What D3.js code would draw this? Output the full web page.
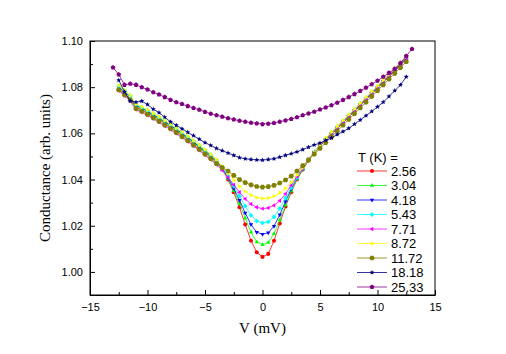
<!DOCTYPE html>
<html><head><meta charset="utf-8">
<script src="https://cdn.jsdelivr.net/npm/d3@7/dist/d3.min.js"></script>
<style>body{margin:0;background:#fff}svg{display:block}</style>
</head><body>
<svg id="c" width="506" height="354"></svg>
<script>
const voltages = [-13,-12.5,-12,-11.5,-11,-10.5,-10,-9.5,-9,-8.5,-8,-7.5,-7,-6.5,-6,-5.5,-5,-4.5,-4,-3.5,-3,-2.5,-2,-1.5,-1,-0.5,0,0.5,1,1.5,2,2.5,3,3.5,4,4.5,5,5.5,6,6.5,7,7.5,8,8.5,9,9.5,10,10.5,11,11.5,12,12.5,13];
const temps = ["2.56","3.04","4.18","5.43","7.71","8.72","11.72","18.18","25.33"];
const g256 = [null,1.0792,1.0771,1.0750,1.0713,1.0702,1.0688,1.0674,1.0660,1.0643,1.0627,1.0611,1.0593,1.0575,1.0557,1.0537,1.0517,1.0497,1.0474,1.0446,1.0400,1.0345,1.0280,1.0205,1.0135,1.0085,1.0065,1.0078,1.0135,1.0210,1.0283,1.0345,1.0400,1.0443,1.0482,1.0516,1.0546,1.0570,1.0595,1.0620,1.0645,1.0670,1.0695,1.0720,1.0745,1.0770,1.0795,1.0820,1.0845,1.0870,1.0895,1.0921,null];
const g304 = [null,1.0798,1.0779,1.0756,1.0719,1.0707,1.0694,1.0679,1.0664,1.0648,1.0632,1.0615,1.0598,1.0580,1.0561,1.0542,1.0522,1.0502,1.0479,1.0448,1.0405,1.0352,1.0295,1.0232,1.0172,1.0130,1.0118,1.0127,1.0165,1.0225,1.0290,1.0350,1.0402,1.0445,1.0485,1.0520,1.0551,1.0578,1.0604,1.0629,1.0654,1.0679,1.0704,1.0729,1.0754,1.0779,1.0804,1.0829,1.0854,1.0879,1.0905,1.0931,null];
const g418 = [null,1.0800,1.0781,1.0758,1.0721,1.0709,1.0696,1.0681,1.0666,1.0650,1.0634,1.0617,1.0600,1.0582,1.0563,1.0544,1.0524,1.0504,1.0481,1.0450,1.0410,1.0362,1.0310,1.0255,1.0205,1.0172,1.0163,1.0170,1.0198,1.0248,1.0305,1.0360,1.0408,1.0448,1.0485,1.0518,1.0548,1.0572,1.0598,1.0623,1.0648,1.0673,1.0698,1.0723,1.0748,1.0773,1.0798,1.0823,1.0848,1.0873,1.0898,1.0924,null];
const g543 = [null,1.0805,1.0786,1.0763,1.0725,1.0713,1.0700,1.0685,1.0670,1.0654,1.0638,1.0621,1.0604,1.0586,1.0567,1.0548,1.0528,1.0508,1.0485,1.0452,1.0415,1.0372,1.0328,1.0285,1.0245,1.0220,1.0212,1.0217,1.0238,1.0275,1.0320,1.0365,1.0408,1.0448,1.0485,1.0518,1.0549,1.0577,1.0603,1.0628,1.0653,1.0678,1.0703,1.0728,1.0753,1.0778,1.0803,1.0828,1.0853,1.0878,1.0903,1.0929,null];
const g771 = [null,1.0785,1.0763,1.0740,1.0703,1.0691,1.0678,1.0663,1.0648,1.0632,1.0616,1.0599,1.0582,1.0564,1.0545,1.0526,1.0506,1.0486,1.0464,1.0440,1.0410,1.0377,1.0345,1.0316,1.0294,1.0280,1.0274,1.0277,1.0288,1.0308,1.0338,1.0375,1.0413,1.0450,1.0485,1.0517,1.0547,1.0575,1.0601,1.0626,1.0651,1.0676,1.0701,1.0726,1.0751,1.0776,1.0801,1.0826,1.0851,1.0876,1.0901,1.0927,null];
const g872 = [null,1.0808,1.0788,1.0765,1.0727,1.0715,1.0702,1.0687,1.0672,1.0656,1.0640,1.0623,1.0606,1.0588,1.0569,1.0550,1.0530,1.0510,1.0487,1.0458,1.0428,1.0398,1.0370,1.0348,1.0332,1.0322,1.0318,1.0320,1.0328,1.0342,1.0362,1.0388,1.0420,1.0452,1.0485,1.0517,1.0550,1.0580,1.0606,1.0631,1.0656,1.0681,1.0706,1.0731,1.0756,1.0781,1.0806,1.0831,1.0856,1.0881,1.0907,1.0933,null];
const g1172 = [null,1.0788,1.0766,1.0744,1.0707,1.0695,1.0682,1.0667,1.0652,1.0636,1.0620,1.0603,1.0586,1.0568,1.0549,1.0530,1.0510,1.0490,1.0469,1.0452,1.0437,1.0418,1.0400,1.0387,1.0377,1.0370,1.0367,1.0369,1.0375,1.0385,1.0398,1.0415,1.0437,1.0460,1.0485,1.0510,1.0535,1.0560,1.0585,1.0610,1.0635,1.0660,1.0685,1.0710,1.0735,1.0760,1.0785,1.0810,1.0835,1.0860,1.0885,1.0910,null];
const g1818 = [null,1.0830,1.0780,1.0740,1.0735,1.0740,1.0725,1.0705,1.0690,1.0670,1.0650,1.0635,1.0620,1.0605,1.0590,1.0575,1.0560,1.0548,1.0535,1.0525,1.0515,1.0505,1.0495,1.0490,1.0487,1.0485,1.0484,1.0487,1.0490,1.0497,1.0505,1.0512,1.0520,1.0530,1.0540,1.0550,1.0558,1.0570,1.0580,1.0595,1.0608,1.0622,1.0640,1.0658,1.0677,1.0695,1.0715,1.0735,1.0760,1.0785,1.0810,1.0845,null];
const g2533 = [1.0885,1.0855,1.0810,1.0815,1.0810,1.0800,1.0790,1.0778,1.0768,1.0757,1.0745,1.0735,1.0727,1.0718,1.0710,1.0702,1.0693,1.0685,1.0678,1.0672,1.0665,1.0660,1.0655,1.0650,1.0646,1.0643,1.0640,1.0642,1.0645,1.0650,1.0656,1.0662,1.0670,1.0678,1.0686,1.0694,1.0703,1.0712,1.0722,1.0733,1.0745,1.0757,1.0770,1.0784,1.0798,1.0813,1.0828,1.0845,1.0862,1.0880,1.0905,1.0935,1.0965];
const xTicks = [-15,-10,-5,0,5,10,15];
const yTicks = [1.00,1.02,1.04,1.06,1.08,1.10];

const seriesData = [g256,g304,g418,g543,g771,g872,g1172,g1818,g2533];
const colors = ["#ff0000","#00ff00","#0000ff","#00ffff","#ff00ff","#ffff00","#808000","#000080","#800080"];
const shapes = ["circle","up","down","diamond","left","right","hexagon","star","pentagon"];

const svg = d3.select("#c");
const L=90,R=435,T=41,B=295;
const x = d3.scaleLinear().domain([-15,15]).range([L,R]);
const y = d3.scaleLinear().domain([0.99,1.10]).range([B,T]);

function poly(n, r, rot){
  const pts=[];
  for(let i=0;i<n;i++){const a=rot+i*2*Math.PI/n;pts.push([r*Math.cos(a),r*Math.sin(a)]);}
  return "M"+pts.map(p=>p[0].toFixed(2)+","+p[1].toFixed(2)).join("L")+"Z";
}
function starPath(r){
  const pts=[];
  for(let i=0;i<10;i++){const rr=i%2?r*0.45:r;const a=-Math.PI/2+i*Math.PI/5;pts.push([rr*Math.cos(a),rr*Math.sin(a)]);}
  return "M"+pts.map(p=>p[0].toFixed(2)+","+p[1].toFixed(2)).join("L")+"Z";
}
function markerPath(s){
  const r=2.2;
  switch(s){
    case "circle": return d3.symbol(d3.symbolCircle, 13)();
    case "up": return poly(3,r+0.3,-Math.PI/2);
    case "down": return poly(3,r+0.3,Math.PI/2);
    case "diamond": return poly(4,r+0.2,-Math.PI/2);
    case "left": return poly(3,r+0.3,Math.PI);
    case "right": return poly(3,r+0.3,0);
    case "hexagon": return poly(6,r+0.5,0);
    case "star": return starPath(r+0.4);
    case "pentagon": return poly(5,r+0.3,-Math.PI/2);
  }
}

// frame
svg.append("rect").attr("x",L).attr("y",T).attr("width",R-L).attr("height",B-T)
  .attr("fill","none").attr("stroke","#000").attr("stroke-width",1);

// axes
const xAxis = d3.axisBottom(x).tickValues(xTicks).tickSizeInner(-5).tickSizeOuter(0).tickPadding(8).tickFormat(d3.format("d"));
svg.append("g").attr("transform",`translate(0,${B})`).call(xAxis);
const xMinor = d3.axisBottom(x).tickValues(d3.range(-12.5,15,5)).tickSizeInner(-3).tickSizeOuter(0).tickFormat("");
svg.append("g").attr("transform",`translate(0,${B})`).call(xMinor).select(".domain").remove();
const yAxis = d3.axisLeft(y).tickValues(yTicks).tickSizeInner(-5).tickSizeOuter(0).tickPadding(7).tickFormat(d3.format(".2f"));
svg.append("g").attr("transform",`translate(${L},0)`).call(yAxis);
const yMinor = d3.axisLeft(y).tickValues([0.99,1.01,1.03,1.05,1.07,1.09]).tickSizeInner(-3).tickSizeOuter(0).tickFormat("");
svg.append("g").attr("transform",`translate(${L},0)`).call(yMinor).select(".domain").remove();
svg.selectAll(".tick text").attr("font-family","Liberation Sans, Arial, sans-serif").attr("font-size","11px").attr("fill","#000");
svg.selectAll(".domain").attr("stroke","#000");
svg.selectAll(".tick line").attr("stroke","#000");

// axis titles
svg.append("text").attr("x",(L+R)/2).attr("y",333).attr("text-anchor","middle")
  .attr("font-family","Liberation Serif, Times New Roman, serif").attr("font-size","15px").text("V (mV)");
svg.append("text").attr("transform",`translate(50,${(T+B)/2}) rotate(-90)`).attr("text-anchor","middle")
  .attr("font-family","Liberation Serif, Times New Roman, serif").attr("font-size","15px").text("Conductance (arb. units)");

// data
const line = d3.line().defined(d=>d[1]!==null).x(d=>x(d[0])).y(d=>y(d[1]));
seriesData.forEach((arr,i)=>{
  const pts = voltages.map((v,j)=>[v,arr[j]]);
  const g = svg.append("g");
  g.append("path").attr("d",line(pts)).attr("fill","none").attr("stroke",colors[i]).attr("stroke-width",0.8);
  g.selectAll("path.m").data(pts.filter(p=>p[1]!==null)).join("path").attr("class","m")
    .attr("d",markerPath(shapes[i]))
    .attr("transform",d=>`translate(${x(d[0])},${y(d[1])})`)
    .attr("fill",colors[i]);
});

// legend
const lg = svg.append("g");
lg.append("text").attr("x",358).attr("y",162).attr("font-family","Liberation Sans, Arial, sans-serif")
  .attr("font-size","13px").text("T (K) =");
temps.forEach((t,i)=>{
  const cy = 171 + i*14.5;
  lg.append("line").attr("x1",357).attr("x2",387).attr("y1",cy).attr("y2",cy).attr("stroke",colors[i]).attr("stroke-width",0.8);
  lg.append("path").attr("d",markerPath(shapes[i])).attr("transform",`translate(372,${cy})`).attr("fill",colors[i]);
  lg.append("text").attr("x",391).attr("y",cy+4.5).attr("font-family","Liberation Sans, Arial, sans-serif")
    .attr("font-size","13px").text(t);
});
</script>
</body></html>
